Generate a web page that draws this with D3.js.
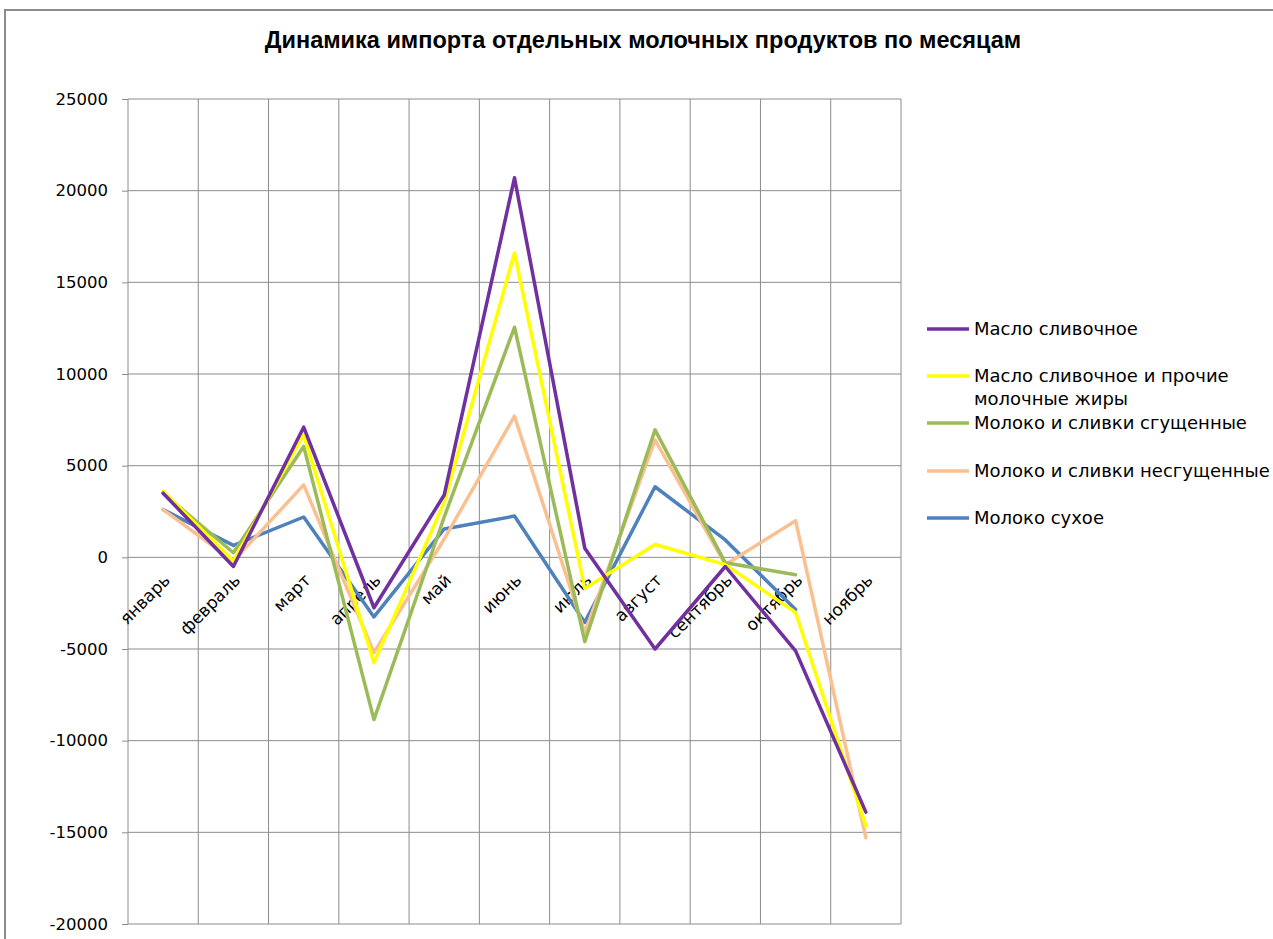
<!DOCTYPE html>
<html>
<head>
<meta charset="utf-8">
<script src="https://cdn.jsdelivr.net/npm/d3@7"></script>
<style>
  body { margin: 0; background: #fff; }
  text { font-family: "DejaVu Sans", Verdana, sans-serif; fill: #000; }
</style>
</head>
<body>
<div id="chart"></div>
<script>
// months on the category axis
const months = ["январь", "февраль", "март", "апрель", "май", "июнь", "июль", "август", "сентябрь", "октябрь", "ноябрь"];

// series values (null = no point)
const butter = [3500, -500, 7100, -2750, 3400, 20700, 500, -5000, -500, -5100, -13900];
const butterFats = [3600, -200, 6700, -5750, 3000, 16600, -1700, 700, -400, -3000, -14650];
const condensed = [3500, 250, 6050, -8850, 2200, 12550, -4600, 6950, -300, -950, null];
const notCondensed = [2600, -200, 3950, -5200, 1000, 7700, -4100, 6400, -400, 2000, -15300];
const dryMilk = [2600, 650, 2200, -3250, 1550, 2250, -3550, 3850, 950, -2850, null];

const yTicks = [25000, 20000, 15000, 10000, 5000, 0, -5000, -10000, -15000, -20000];

const series = [
  { name: "Масло сливочное", values: butter, color: "#7030A0" },
  { name: "Масло сливочное и прочие молочные жиры", values: butterFats, color: "#FFFF00" },
  { name: "Молоко и сливки сгущенные", values: condensed, color: "#9BBB59" },
  { name: "Молоко и сливки несгущенные", values: notCondensed, color: "#FAC090" },
  { name: "Молоко сухое", values: dryMilk, color: "#4F81BD" }
];

const W = 1273, H = 939;
const plot = { left: 128, right: 901, top: 99, bottom: 924 };

const svg = d3.select("#chart")
  .append("svg")
  .attr("width", W)
  .attr("height", H);

// chart area border (only top and left are visible in the frame)
svg.append("path")
  .attr("d", `M5,${H} L5,10 L${W},10`)
  .attr("fill", "none")
  .attr("stroke", "#8c8c8c")
  .attr("stroke-width", 2);

svg.append("text")
  .attr("x", 643)
  .attr("y", 48)
  .attr("text-anchor", "middle")
  .style("font-family", "\"Liberation Sans\", Arial, sans-serif")
  .style("font-weight", "bold")
  .style("font-size", "23.5px")
  .text("Динамика импорта отдельных молочных продуктов по месяцам");

const x = d3.scaleBand()
  .domain(months)
  .range([plot.left, plot.right])
  .paddingInner(0)
  .paddingOuter(0);

const y = d3.scaleLinear()
  .domain([-20000, 25000])
  .range([plot.bottom, plot.top]);

// horizontal gridlines + ticks
const yAxis = svg.append("g")
  .attr("transform", `translate(${plot.left}, 0)`)
  .call(d3.axisLeft(y)
    .tickValues(yTicks)
    .tickSize(6)
    .tickPadding(14)
    .tickFormat(d => String(d)));
yAxis.select(".domain").remove();
yAxis.selectAll("line").attr("stroke", "#8c8c8c");
yAxis.selectAll("text")
  .style("font-size", "16.5px")
  .style("font-family", "\"DejaVu Sans\", Verdana, sans-serif")
  .attr("fill", "#000");

svg.append("g")
  .selectAll("line")
  .data(yTicks)
  .enter()
  .append("line")
  .attr("x1", plot.left)
  .attr("x2", plot.right)
  .attr("y1", d => y(d))
  .attr("y2", d => y(d))
  .attr("stroke", "#8c8c8c")
  .attr("stroke-width", 1);

// vertical gridlines on category boundaries
const bounds = months.map(m => x(m)).concat([plot.right]);
svg.append("g")
  .selectAll("line")
  .data(bounds)
  .enter()
  .append("line")
  .attr("x1", d => d)
  .attr("x2", d => d)
  .attr("y1", plot.top)
  .attr("y2", plot.bottom)
  .attr("stroke", "#8c8c8c")
  .attr("stroke-width", 1);

const cx = m => x(m) + x.bandwidth() / 2;

// rotated month labels just under the zero line
svg.append("g")
  .selectAll("text")
  .data(months)
  .enter()
  .append("text")
  .attr("transform", d => `translate(${cx(d) + 8}, ${y(0) + 24}) rotate(-45)`)
  .attr("text-anchor", "end")
  .style("font-size", "17px")
  .text(d => d);

const line = d3.line()
  .defined(d => d.v !== null)
  .x(d => cx(d.m))
  .y(d => y(d.v));

// last series in the list is drawn first, so the purple one ends on top
svg.append("g")
  .selectAll("path")
  .data(series.slice().reverse())
  .enter()
  .append("path")
  .attr("d", s => line(s.values.map((v, i) => ({ m: months[i], v: v }))))
  .attr("fill", "none")
  .attr("stroke", s => s.color)
  .attr("stroke-width", 3.5)
  .attr("stroke-linejoin", "round")
  .attr("stroke-linecap", "round");

// legend
const legendRows = [
  { s: series[0], y: 329, lines: ["Масло сливочное"] },
  { s: series[1], y: 376, lines: ["Масло сливочное и прочие", "молочные жиры"] },
  { s: series[2], y: 423, lines: ["Молоко и сливки сгущенные"] },
  { s: series[3], y: 471, lines: ["Молоко и сливки несгущенные"] },
  { s: series[4], y: 518, lines: ["Молоко сухое"] }
];

const lg = svg.append("g")
  .selectAll("g")
  .data(legendRows)
  .enter()
  .append("g")
  .attr("transform", d => `translate(0, ${d.y})`);

lg.append("line")
  .attr("x1", 927)
  .attr("x2", 969)
  .attr("y1", 0)
  .attr("y2", 0)
  .attr("stroke", d => d.s.color)
  .attr("stroke-width", 3.5);

lg.append("text")
  .attr("x", 974)
  .attr("y", 6)
  .style("font-size", "18px")
  .selectAll("tspan")
  .data(d => d.lines)
  .enter()
  .append("tspan")
  .attr("x", 974)
  .attr("dy", (d, i) => i === 0 ? 0 : 23)
  .text(d => d);
</script>
</body>
</html>
